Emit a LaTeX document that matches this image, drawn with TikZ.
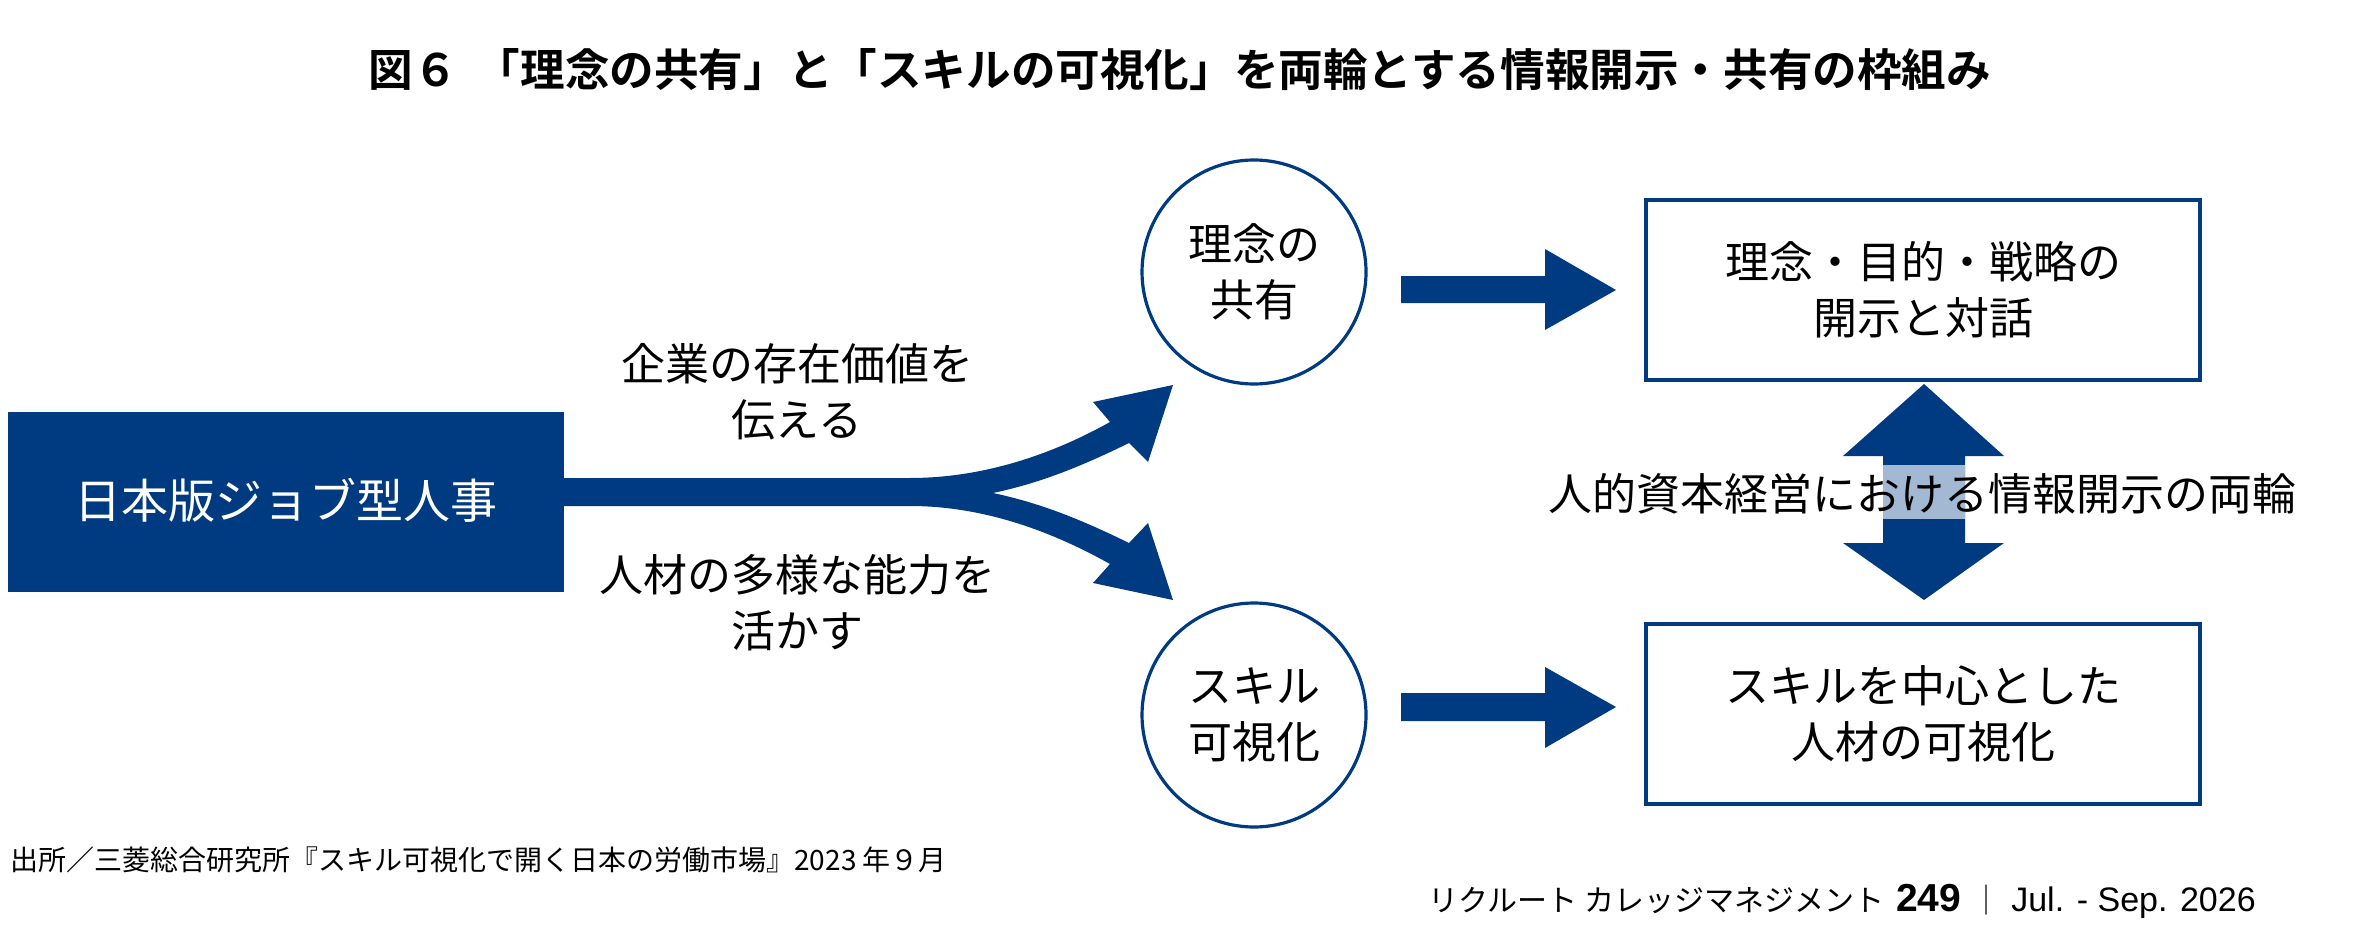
\documentclass[tikz,border=0pt]{standalone}
\usepackage{fontspec}
\setmainfont{Noto Sans CJK JP}[BoldFont={Noto Sans CJK JP Bold}]
\newfontfamily\latinfont{Liberation Sans}
\definecolor{navy}{RGB}{0,58,128}
\definecolor{lightnavy}{RGB}{163,184,211}
\begin{document}
\begin{tikzpicture}[x=0.5pt,y=-0.5pt,
  txt/.style={font=\fontsize{22}{28}\selectfont,align=center,inner sep=0pt},
  circ/.style={circle,draw=navy,line width=1.6pt,minimum size=112pt,txt},
  rbox/.style={draw=navy,line width=1.6pt,minimum width=277pt,minimum height=90pt,txt},
  fillnavy/.style={fill=navy,draw=none}]
\useasboundingbox (0,0) rectangle (2353,936);
% title
\node[txt,font=\bfseries\fontsize{22.3}{28}\selectfont] (title) at (1180,70) {図６\hspace{0.4em}「理念の共有」と「スキルの可視化」を両輪とする情報開示・共有の枠組み};
% left box
\node[fillnavy,minimum width=278pt,minimum height=90pt,inner sep=0pt] (jbox) at (286,502) {};
\node[txt,text=white,font=\fontsize{23.5}{28}\selectfont] (jtext) at (286,500) {日本版ジョブ型人事};
% fork arrow
\coordinate (s1) at (564,478);
\coordinate (s2) at (564,506);
\fill[navy] (s1) -- (910,478) .. controls (990,478) and (1060,450) .. (1110,422) -- (1093,402) -- (1173,385) -- (1148,462) -- (1129,443)
  .. controls (1080,467) and (1040,483) .. (993,493)
  .. controls (1040,503) and (1080,519) .. (1129,543) -- (1148,523) -- (1173,600) -- (1093,583) -- (1110,564)
  .. controls (1060,536) and (990,506) .. (910,506) -- (s2) -- cycle;
% labels
\node[txt] (lab1) at (797,392) {企業の存在価値を\\伝える};
\node[txt] (lab2) at (797,603) {人材の多様な能力を\\活かす};
% circles
\node[circ] (c1) at (1254,272) {理念の\\共有};
\node[circ] (c2) at (1254,715) {スキル\\可視化};
% right boxes
\node[rbox] (b1) at (1923,290) {理念・目的・戦略の\\開示と対話};
\node[rbox] (b2) at (1923,714) {スキルを中心とした\\人材の可視化};
% right arrows
\fill[navy] (1401,276) -- (1545,276) -- (1545,249) -- (1616,290) -- (1545,330) -- (1545,303) -- (1401,303) -- cycle;
\fill[navy] (1401,693) -- (1545,693) -- (1545,667) -- (1616,707) -- (1545,748) -- (1545,721) -- (1401,721) -- cycle;
% double arrow
\fill[navy] (1924,384) -- (2004,456) -- (1965,456) -- (1965,543) -- (2004,543) -- (1924,600) -- (1843,543) -- (1883,543) -- (1883,456) -- (1843,456) -- cycle;
\fill[lightnavy] (1883,465) rectangle (1965,519);
\node[txt] (mid) at (1922,494) {人的資本経営における情報開示の両輪};
% footnotes
\node[anchor=west,inner sep=0pt,font=\fontsize{14}{16}\selectfont] (src) at (10,860) {出所／三菱総合研究所『スキル可視化で開く日本の労働市場』2023 年９月};
\node[anchor=west,inner sep=0pt,font=\fontsize{15}{16}\selectfont] (pub) at (1428,901) {リクルート カレッジマネジメント\hspace{6pt}{\latinfont\fontsize{19.5}{20}\selectfont\textbf{249}}\hspace{5pt}｜\hspace{5pt}{\latinfont\fontsize{17}{18}\selectfont Jul. - Sep. 2026}};
\end{tikzpicture}
\end{document}
